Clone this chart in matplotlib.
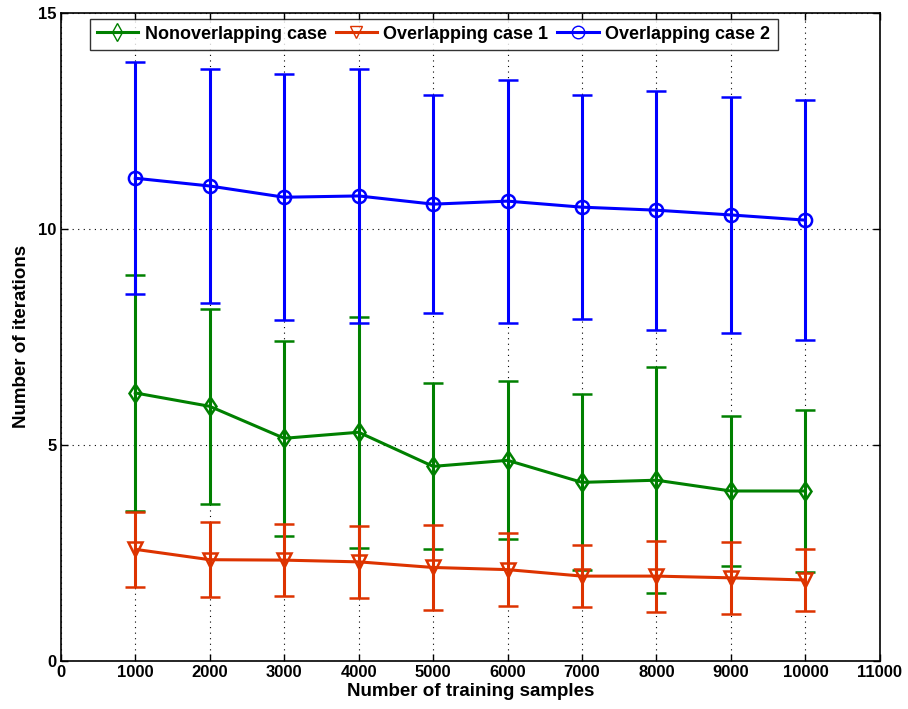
import matplotlib
matplotlib.use("Agg")
import matplotlib.pyplot as plt
from matplotlib.lines import Line2D
from matplotlib.ticker import MultipleLocator

plt.rcParams['font.family'] = ['Liberation Sans', 'DejaVu Sans']
plt.rcParams['font.weight'] = 'bold'

samples = [1000, 2000, 3000, 4000, 5000, 6000, 7000, 8000, 9000, 10000]

# mean iterations and half-width of error bars
nonoverlap_mean = [6.20, 5.89, 5.15, 5.29, 4.50, 4.64, 4.13, 4.18, 3.93, 3.93]
nonoverlap_err = [2.74, 2.26, 2.26, 2.67, 1.92, 1.83, 2.04, 2.61, 1.74, 1.88]

overlap1_mean = [2.58, 2.34, 2.33, 2.29, 2.16, 2.11, 1.96, 1.96, 1.92, 1.87]
overlap1_err = [0.87, 0.87, 0.84, 0.83, 0.99, 0.84, 0.71, 0.82, 0.84, 0.72]

overlap2_mean = [11.17, 10.99, 10.73, 10.76, 10.57, 10.64, 10.50, 10.43, 10.32, 10.20]
overlap2_err = [2.68, 2.70, 2.85, 2.93, 2.53, 2.81, 2.60, 2.77, 2.73, 2.78]

series = [
    ("Nonoverlapping case", nonoverlap_mean, nonoverlap_err, "#008000", "d"),
    ("Overlapping case 1", overlap1_mean, overlap1_err, "#DD3300", "v"),
    ("Overlapping case 2", overlap2_mean, overlap2_err, "#0000FF", "o"),
]

fig = plt.figure(figsize=(9.08, 7.09), dpi=100)
ax = fig.add_axes([0.067, 0.068, 0.902, 0.914])

handles = []
for label, mean, err, color, marker in series:
    ax.errorbar(samples, mean, yerr=err, color=color, lw=2.2, elinewidth=2.2,
                capsize=7.5, capthick=2.2, marker=marker, markersize=9.5,
                markerfacecolor='none', markeredgewidth=1.8)
    handles.append(Line2D([], [], color=color, lw=2.2, marker=marker, markersize=9,
                          markerfacecolor='none', markeredgewidth=1.0, label=label))

ax.set_xlim(0, 11000)
ax.set_ylim(0, 15)
ax.xaxis.set_major_locator(MultipleLocator(1000))
ax.yaxis.set_major_locator(MultipleLocator(5))
ax.grid(True, color='black', linestyle=(0, (1, 4)), linewidth=0.8)
ax.tick_params(direction='in', top=True, right=True, labelsize=12, length=5, width=1, pad=3)
for lab in ax.get_xticklabels() + ax.get_yticklabels():
    lab.set_fontweight('bold')
for sp in ax.spines.values():
    sp.set_linewidth(1.2)

ax.set_xlabel("Number of training samples", fontsize=13.5, fontweight='bold', labelpad=2)
ax.set_ylabel("Number of iterations", fontsize=13.5, fontweight='bold', labelpad=6)

leg = ax.legend(handles=handles, loc='upper left', bbox_to_anchor=(0.035, 0.991), ncol=3,
                fontsize=13, frameon=True, fancybox=False, edgecolor='black',
                handlelength=2.3, columnspacing=0.5, handletextpad=0.35, borderpad=0.4,
                borderaxespad=0)
leg.get_frame().set_linewidth(1.0)
for t in leg.get_texts():
    t.set_fontweight('bold')

fig.savefig("out.png", dpi=100)
